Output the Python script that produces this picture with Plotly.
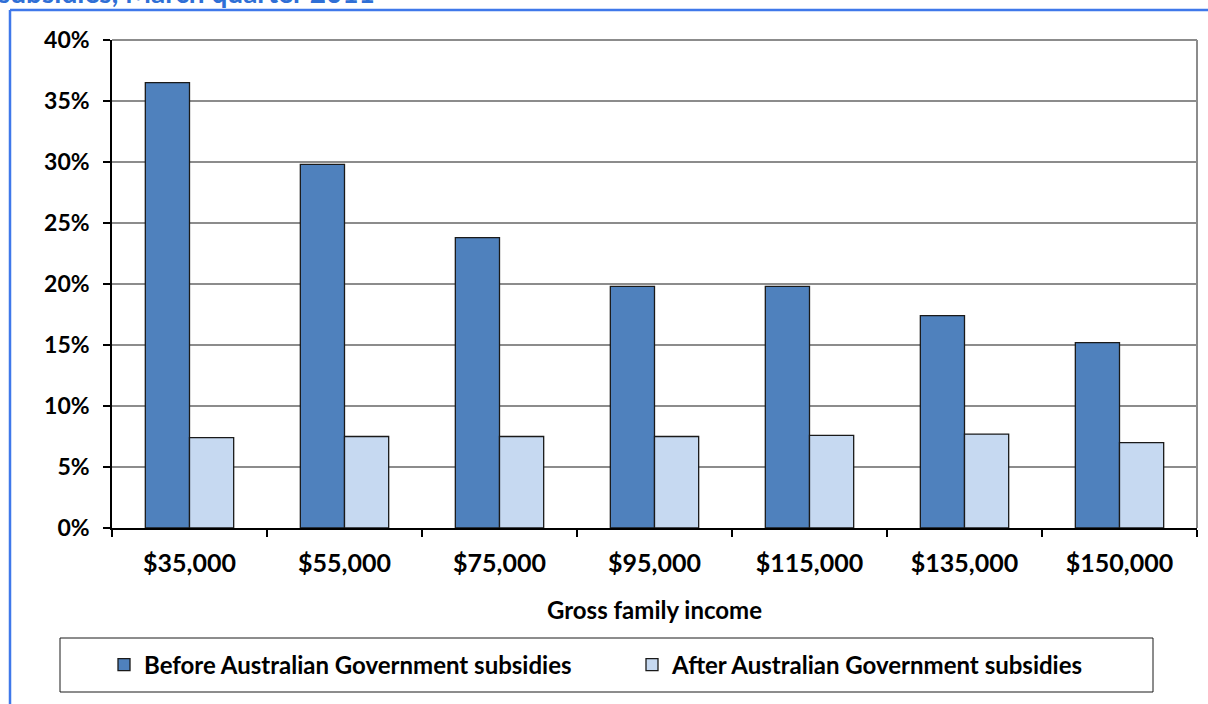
import plotly.graph_objects as go

categories = ["$35,000", "$55,000", "$75,000", "$95,000", "$115,000", "$135,000", "$150,000"]
before = [36.5, 29.8, 23.8, 19.8, 19.8, 17.4, 15.2]
after = [7.4, 7.5, 7.5, 7.5, 7.6, 7.7, 7.0]
y_ticks = [0, 5, 10, 15, 20, 25, 30, 35, 40]
y_labels = [f"{v}%" for v in y_ticks]

FONT = "Lato"
W, H = 1208, 704
L, R, T, B = 112, 11, 40, 176
PW, PH = W - L - R, H - T - B

def px_x(px):
    return (px - L) / PW

def px_y(py):
    return (H - B - py) / PH

fig = go.Figure()
fig.add_trace(go.Bar(x=categories, y=before, name="Before Australian Government subsidies",
                     marker=dict(color="#4F81BD", line=dict(color="#1a1a1a", width=1.3)),
                     legend="legend"))
fig.add_trace(go.Bar(x=categories, y=after, name="After Australian Government subsidies",
                     marker=dict(color="#C6D9F1", line=dict(color="#1a1a1a", width=1.3)),
                     legend="legend2"))

shapes = [
    dict(type="line", xref="paper", yref="paper", x0=0, x1=1, y0=1, y1=1,
         line=dict(color="#8c8c8c", width=2)),
    dict(type="line", xref="paper", yref="paper", x0=1, x1=1, y0=0, y1=1,
         line=dict(color="#8c8c8c", width=2)),
    dict(type="rect", xref="paper", yref="paper", x0=px_x(60), x1=px_x(1153),
         y0=px_y(692), y1=px_y(638), line=dict(color="#1a1a1a", width=1)),
    dict(type="line", xref="paper", yref="paper", x0=px_x(10), x1=px_x(1210),
         y0=px_y(10), y1=px_y(10), line=dict(color="#3f78ea", width=2.5)),
    dict(type="line", xref="paper", yref="paper", x0=px_x(10), x1=px_x(10),
         y0=px_y(10), y1=px_y(706), line=dict(color="#3f78ea", width=2.5)),
]

legend_common = dict(orientation="h", xanchor="left", yanchor="middle",
                     font=dict(family=FONT, size=24, color="black", weight="bold"),
                     bgcolor="rgba(0,0,0,0)", borderwidth=0, itemwidth=30)

fig.update_layout(
    width=W, height=H,
    margin=dict(l=L, r=R, t=T, b=B),
    paper_bgcolor="white", plot_bgcolor="white",
    barmode="group", bargap=0.43, bargroupgap=0,
    font=dict(family=FONT, size=24, color="black"),
    showlegend=True,
    legend=dict(x=px_x(104), y=px_y(665), **legend_common),
    legend2=dict(x=px_x(632), y=px_y(665), **legend_common),
    xaxis=dict(type="category", tickson="boundaries", ticks="outside", ticklen=7,
               tickcolor="black", tickwidth=1.5, showline=True, linecolor="black", linewidth=1.5,
               tickfont=dict(family=FONT, size=25, color="black", weight="bold"),
               ticklabelstandoff=12, showgrid=False,
               title=dict(text="<b>Gross family income</b>", font=dict(family=FONT, size=24), standoff=26)),
    yaxis=dict(range=[0, 40], tickvals=y_ticks, ticktext=y_labels, ticks="outside", ticklen=7,
               tickcolor="black", tickwidth=1.5, showline=True, linecolor="black", linewidth=1.5,
               showgrid=True, gridcolor="#8c8c8c", gridwidth=2, zeroline=False,
               ticklabelstandoff=9,
               tickfont=dict(family=FONT, size=23, color="black", weight="bold")),
    shapes=shapes,
    annotations=[dict(text="<b>subsidies, March quarter 2011</b>", xref="paper", yref="paper",
                      x=px_x(-4), y=px_y(-7.5), xanchor="left", yanchor="middle", showarrow=False,
                      font=dict(family=FONT, size=28, color="#2f6fd6"))],
)

fig.write_html("out.html", config={"displayModeBar": False},
               post_script="document.body.style.margin='0';document.body.style.overflow='hidden';")
